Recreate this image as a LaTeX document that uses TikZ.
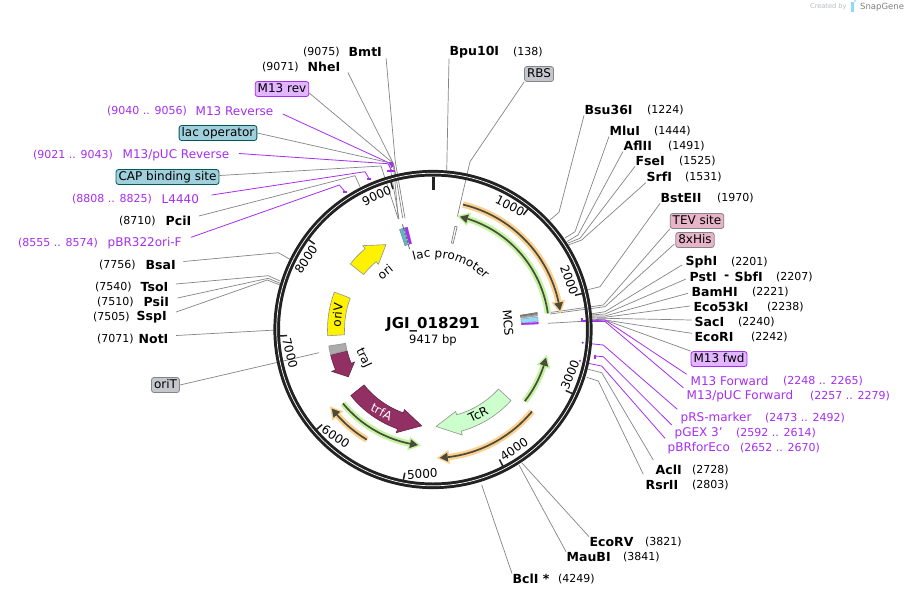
\documentclass[tikz,border=0pt]{standalone}
\usepackage{fontspec}
\setmainfont{DejaVu Sans}
\usetikzlibrary{decorations.text}
\newcommand{\fsz}[1]{\fontsize{#1}{#1}\selectfont}
\definecolor{vio}{HTML}{A62EF0}
\definecolor{gry}{HTML}{858585}
\definecolor{ringc}{HTML}{222222}
\definecolor{haloO}{HTML}{FDD08F}
\definecolor{haloG}{HTML}{C3F5A0}
\definecolor{darkf}{HTML}{4B4B3B}
\definecolor{maroon}{HTML}{933063}
\definecolor{tcrg}{HTML}{CCFFCC}
\definecolor{tealb}{HTML}{9FD0DC}
\definecolor{tealf}{HTML}{66B3C6}
\definecolor{pinkb}{HTML}{E8B4C8}
\definecolor{grayb}{HTML}{C4C7CE}
\definecolor{violb}{HTML}{E3B5FF}
\definecolor{snapg}{HTML}{B5BABF}
\tikzset{
  nm/.style={font=\fsz{12.5}\bfseries,anchor=west,inner sep=0.5pt,text=black},
  nb/.style={font=\fsz{11},anchor=west,inner sep=0pt,text=black},
  pn/.style={font=\fsz{12},anchor=west,inner sep=0.5pt,text=vio},
  pb/.style={font=\fsz{11},anchor=west,inner sep=0pt,text=vio},
  bx/.style={font=\fsz{12},rounded corners=2.5pt,draw=#1,line width=.8pt,inner xsep=2.5pt,inner ysep=2pt,text height=8.8pt,text depth=2.2pt,text=black},
  conn/.style={draw=gry,line width=.7pt},
  pconn/.style={draw=vio,line width=.8pt},
  tl/.style={font=\fsz{12},inner sep=0pt},
  ft/.style={font=\fsz{12},inner sep=0pt},
  blockedge/.style={draw=gry!90,line width=.6pt,line join=round}
}
\newcounter{lk}
% connector: style, start, elbow, free end
\newcommand{\lnk}[4]{\stepcounter{lk}\coordinate (end\thelk) at (#4);\draw[#1] (#2) -- (#3) -- (end\thelk);}
% name + number label
\newcommand{\rs}[6]{\node[nm] (#1) at (#2,#3) {#4};\node[nb] (#1n) at (#5,#3) {#6};}
\newcommand{\ps}[6]{\node[pn] (#1) at (#2,#3) {#4};\node[pb] (#1n) at (#5,#3) {#6};}
% arc sector
\newcommand{\sect}[5]{\filldraw[#5] ({#1-90}:#3) arc[start angle={#1-90},end angle={#2-90},radius=#3pt] -- ({#2-90}:#4) arc[start angle={#2-90},end angle={#1-90},radius=#4pt] -- cycle;}
% block arrow: tail, shoulder, tip, style
\newcommand{\blk}[4]{\filldraw[#4] ({#1-90}:105.5) arc[start angle={#1-90},end angle={#2-90},radius=105.5pt] -- ({#2-90}:109.5) -- ({#3-90}:97) -- ({#2-90}:85) -- ({#2-90}:88.5) arc[start angle={#2-90},end angle={#1-90},radius=88.5pt] -- cycle;}
% feature arc with halo: r, from, to, halo
\newcommand{\farc}[4]{%
 \pgfmathsetmacro{\sgn}{(#3>#2)?1:-1}%
 \pgfmathsetmacro{\bb}{#3-\sgn*8/#1*57.3}%
 \draw[#4,line width=6.3pt] ({#2-90}:#1) arc[start angle={#2-90},end angle={\bb-90},radius=#1pt];
 \filldraw[fill=#4,draw=#4,line width=3pt,line join=miter] ({#3-90}:#1) -- ({\bb-90}:#1+4.5) -- ({\bb-90}:#1-4.5) -- cycle;
 \draw[darkf,line width=1.7pt] ({#2-90}:#1) arc[start angle={#2-90},end angle={\bb-90},radius=#1pt];
 \fill[darkf] ({#3-90}:#1) -- ({\bb-90}:#1+4.5) -- ({\bb-90}:#1-4.5) -- cycle;}
\begin{document}
\begin{tikzpicture}[x=1pt,y=1pt,yscale=-1]
\useasboundingbox (0,0) rectangle (908,598);
\fill[white] (0,0) rectangle (908,598);
% created-by mark
\node[inner sep=0pt,anchor=west,font=\fsz{6.6},text=snapg] (cr) at (810,7) {Created by};
\fill[cyan!45] (851,2) rectangle (854,12);
\fill[cyan!30] (854,2) arc[start angle=90,end angle=-90,radius=2.5pt] -- cycle;
\node[inner sep=0pt,anchor=west,font=\fsz{8.5},text=gray] (sg) at (860,7) {SnapGene};
% labels left
\rs{bmt}{348}{52}{BmtI}{303}{(9075)}
\rs{nhe}{307}{67}{NheI}{262}{(9071)}
\node[bx=vio,fill=violb] (mrev) at (282,89) {M13 rev};
\ps{mrv}{195}{111}{M13 Reverse}{107}{(9040 .. 9056)}
\node[bx=teal!70!black,fill=tealb] (lacop) at (218,133) {lac operator};
\ps{mpr}{122}{155}{M13/pUC Reverse}{33}{(9021 .. 9043)}
\node[bx=teal!70!black,fill=tealb] (cap) at (167.5,177) {CAP binding site};
\ps{l44}{161}{199}{L4440}{72}{(8808 .. 8825)}
\rs{pci}{165}{221}{PciI}{119}{(8710)}
\ps{pbr}{107}{243}{pBR322ori-F}{18}{(8555 .. 8574)}
\rs{bsa}{145}{265}{BsaI}{99}{(7756)}
\rs{tso}{140}{287}{TsoI}{95}{(7540)}
\rs{psi}{143}{302}{PsiI}{97}{(7510)}
\rs{ssp}{136}{317}{SspI}{93}{(7505)}
\rs{not}{138}{339}{NotI}{97}{(7071)}
\node[bx=gry,fill=grayb] (orit) at (165.5,385) {oriT};
% labels top/right
\rs{bpu}{449}{52}{Bpu10I}{513}{(138)}
\node[bx=gry,fill=grayb] (rbs) at (539,74) {RBS};
\rs{bsu}{584}{110}{Bsu36I}{647}{(1224)}
\rs{mlu}{609}{131}{MluI}{654}{(1444)}
\rs{afl}{623}{146}{AflII}{668}{(1491)}
\rs{fse}{635}{161}{FseI}{679}{(1525)}
\rs{srf}{646}{177}{SrfI}{685}{(1531)}
\rs{bst}{660}{198}{BstEII}{717}{(1970)}
\node[bx=gry,fill=pinkb] (tev) at (697,221) {TEV site};
\node[bx=gry,fill=pinkb] (his) at (695,240) {8xHis};
\rs{sph}{685}{262}{SphI}{731}{(2201)}
\rs{pst}{689}{277}{PstI}{776}{(2207)}
\node[nm] (dash) at (723.5,277) {-};
\node[nm] (sbf) at (734,277) {SbfI};
\rs{bam}{691}{292}{BamHI}{752}{(2221)}
\rs{eco}{693}{307}{Eco53kI}{767}{(2238)}
\rs{sac}{694}{322}{SacI}{738}{(2240)}
\rs{eri}{694}{337}{EcoRI}{751}{(2242)}
\node[bx=vio,fill=violb] (mfwd) at (719,359) {M13 fwd};
\ps{mfo}{690}{381}{M13 Forward}{783}{(2248 .. 2265)}
\ps{mpf}{686}{396}{M13/pUC Forward}{810}{(2257 .. 2279)}
\ps{prs}{680}{418}{pRS-marker}{765}{(2473 .. 2492)}
\ps{pgx}{674}{433}{pGEX 3'}{736}{(2592 .. 2614)}
\ps{pbf}{667}{448}{pBRforEco}{740}{(2652 .. 2670)}
\rs{acl}{655}{470}{AclI}{692}{(2728)}
\rs{rsr}{645}{485}{RsrII}{692}{(2803)}
\rs{erv}{589}{542}{EcoRV}{645}{(3821)}
\rs{mau}{566}{557}{MauBI}{623}{(3841)}
\rs{bcl}{512}{579}{BclI *}{558}{(4249)}
% connectors
\lnk{conn}{[shift={(3.5,1)}]bmt.south east}{395.3,161.7}{405,218.3}
\lnk{conn}{[shift={(7,0)}]nhe.south east}{394,165}{402.7,218}
\lnk{conn}{[shift={(0,4)}]mrev.east}{393.3,163.3}{398.3,219}
\lnk{pconn}{[shift={(8.7,3)}]mrv.east}{390,163.3}{392,168}
\lnk{conn}{lacop.east}{389.3,162.7}{399,219}
\lnk{pconn}{[shift={(9,-1.5)}]mpr.east}{388,163.7}{392,171}
\lnk{conn}{[shift={(0,-1.5)}]cap.east}{381,166}{398.3,219}
\lnk{pconn}{[shift={(12,-4)}]l44.east}{365,171.7}{369.3,179}
\lnk{conn}{[shift={(7,-5)}]pci.east}{355,175.7}{360,186.7}
\lnk{pconn}{[shift={(8.7,-5.7)}]pbr.east}{339.3,185}{345,191.7}
\draw[vio,line width=1.2pt] (387,171) -- (395,171) (366.5,179) -- (371,179) (342.5,192) -- (347,192) (389,163) -- (392,163) -- (392,167);
\lnk{conn}{[shift={(7,-3.5)}]bsa.east}{278.3,252.7}{290,259.3}
\lnk{conn}{[shift={(7,-3)}]tso.east}{268.3,275.7}{280,281}
\lnk{conn}{[shift={(7.7,-4)}]psi.east}{268.3,278.3}{280,283.3}
\lnk{conn}{[shift={(8.7,-5)}]ssp.east}{267.3,280}{280,285}
\coordinate (notE) at (276,330);\draw[conn] ([shift={(7,-3.5)}]not.east) -- (notE);
\coordinate (oriTE) at (319,352.7);\draw[conn] (orit.east) -- (oriTE);
\coordinate (bpuE) at (446.7,172);\draw[conn] (bpu.south west) -- (bpuE);
\lnk{conn}{rbs.south west}{470,161.7}{457.3,216.7}
\lnk{conn}{bsu.south west}{559,212.3}{550,220}
\lnk{conn}{mlu.south west}{575,231.7}{565,238}
\lnk{conn}{afl.south west}{578,235}{566.7,241.7}
\lnk{conn}{fse.south west}{580,238.3}{568,243}
\lnk{conn}{srf.south west}{581.7,240}{568.3,245}
\lnk{conn}{bst.south west}{600,286.7}{586.7,290}
\lnk{conn}{tev.south west}{603.3,305}{550,312.5}
\lnk{conn}{[shift={(-1,4)}]his.west}{605,306.7}{550,314}
\lnk{conn}{[shift={(-3,3)}]sph.west}{605,311.7}{590,314}
\lnk{conn}{[shift={(-3,2)}]pst.west}{605,314}{590,315}
\lnk{conn}{[shift={(-3,1.3)}]bam.west}{605,316}{590,316}
\lnk{conn}{[shift={(-3,-1)}]eco.west}{605,317.3}{590,317}
\lnk{conn}{[shift={(-2.3,-2)}]sac.west}{605,318.3}{590,318}
\lnk{conn}{[shift={(-2.3,-3.7)}]eri.west}{605,320}{590,319}
\lnk{conn}{mfwd.north west}{605,320}{548,323.3}
\lnk{pconn}{[shift={(-3.3,-6.7)}]mfo.west}{605,320}{582,320.5}
\lnk{pconn}{[shift={(-2.7,-8.3)}]mpf.west}{605,321.5}{583,321.5}
\draw[vio,line width=1.2pt] (582,318) -- (582,321.5);
\lnk{pconn}{[shift={(-2.7,-8.7)}]prs.west}{603.3,345}{586.7,343.3}
\fill[vio] (582.7,342.7) circle (1.2);
\lnk{pconn}{[shift={(-2.3,-8)}]pgx.west}{603.3,356.7}{595,356}
\draw[vio,line width=1.2pt] (595,354.5) -- (595,358.5);
\lnk{pconn}{[shift={(-2,-9.7)}]pbf.west}{601.7,366}{585,362.7}
\fill[vio] (580,360.7) circle (1.2);
\lnk{conn}{[shift={(-1.7,-10)}]acl.west}{601.7,372.7}{588.3,369.3}
\lnk{conn}{[shift={(-1.7,-10.7)}]rsr.west}{598.3,381}{586.7,377.3}
\coordinate (ervE) at (522,463);\draw[conn] (erv.north west) -- (ervE);
\coordinate (mauE) at (519,465);\draw[conn] (mau.north west) -- (mauE);
\coordinate (bclE) at (481.7,485);\draw[conn] (bcl.north west) -- (bclE);
% map centred on the ring
\begin{scope}[shift={(433,329.5)}]
 \draw[ringc,line width=6.6pt] (0,0) circle (156.3);
 \draw[white,line width=.7pt] (0,0) circle (156.3);
 \draw[ringc,line width=3pt] (-90:153) -- (-90:139.5);
 \foreach \k in {1,...,9}{\pgfmathsetmacro{\tk}{\k*1000/9417*360-90}\draw[ringc,line width=1.5pt] (\tk:153.5) -- (\tk:146);}
 % features
 \farc{128.5}{13.5}{81.5}{haloO}
 \farc{116}{82}{13.4}{haloG}
 \farc{116.5}{128}{104}{haloG}
 \farc{128.5}{129.6}{177}{haloO}
 \farc{128.5}{211}{232}{haloO}
 \farc{116.5}{230.6}{187.4}{haloG}
 \blk{132.3}{164.5}{178.2}{fill=tcrg,blockedge}
 \blk{231.2}{199.6}{186.7}{fill=maroon,draw=maroon!70!black,line width=.6pt}
 \blk{308.4}{320}{331}{fill=yellow,blockedge}
 \blk{256}{247.5}{240.8}{fill=maroon,draw=maroon!70!black,line width=.6pt}
 \sect{256.3}{261}{88.5}{105.5}{fill=gray!65,blockedge}
 \sect{266.6}{290.8}{88.5}{105.5}{fill=yellow,blockedge}
 % lac promoter
 \sect{12}{13.2}{88.5}{105.5}{fill=white,draw=gray,line width=.7pt}
 % lac operator group
 \sect{341.5}{344.5}{88.5}{105.5}{fill=tealf,draw=tealf!80!black,line width=.4pt}
 \sect{344.5}{346}{88.5}{105.5}{fill=vio,draw=vio,line width=.2pt}
 \draw[gray!80!black,line width=.8pt] (-106.2:84) -- (-106.2:109.5);
 \draw[white,line width=.8pt,dash pattern=on 1pt off 3pt] (-106.2:89) -- (-106.2:105);
 % MCS group
 \sect{80.7}{81.5}{88.5}{105.5}{fill=gray,draw=darkf,line width=.3pt}
 \sect{81.7}{82.6}{88.5}{105.5}{fill=gray!70,draw=gray,line width=.3pt}
 \sect{83.2}{85.6}{88.5}{105.5}{fill=blue!30!cyan!45,draw=gray,line width=.3pt}
 \sect{86}{87}{88.5}{105.5}{fill=vio,draw=vio,line width=.2pt}
\end{scope}
% curved label
\begin{scope}[shift={(433,329.5)},yscale=-1]
 \path[postaction={decorate,decoration={text along path,text align=center,text={|\fsz{12}|lac promoter}}}] (110:72) arc[start angle=110,end angle=40,radius=72pt];
\end{scope}
% tick numbers
\node[tl,rotate=-27] (t1) at (510,206) {1000};
\node[tl,rotate=-70] (t2) at (569.3,280) {2000};
\node[tl,rotate=68] (t3) at (570,375) {3000};
\node[tl,rotate=34] (t4) at (514,449.3) {4000};
\node[tl,rotate=3] (t5) at (422.3,474) {5000};
\node[tl,rotate=-34] (t6) at (335.7,436.7) {6000};
\node[tl,rotate=-76] (t7) at (290,353.3) {7000};
\node[tl,rotate=56] (t8) at (306,259.3) {8000};
\node[tl,rotate=25] (t9) at (376.7,195.7) {9000};
% feature names
\node[ft,rotate=40] (fori) at (385,271.7) {ori};
\node[ft,rotate=85] (foriv) at (337.3,315) {oriV};
\node[ft,rotate=-65] (ftraj) at (363.3,358) {traJ};
\node[ft,rotate=-27,text=white] (ftrfa) at (381.7,411.7) {trfA};
\node[ft,rotate=25] (ftcr) at (478.3,414.3) {TcR};
\node[ft,rotate=-85] (fmcs) at (508,323) {MCS};
\node[font=\fsz{15}\bfseries,inner sep=0pt] (title) at (433,325) {JGI\_018291};
\node[font=\fsz{11.5},inner sep=0pt] (size) at (433,340) {9417 bp};
\end{tikzpicture}
\end{document}
